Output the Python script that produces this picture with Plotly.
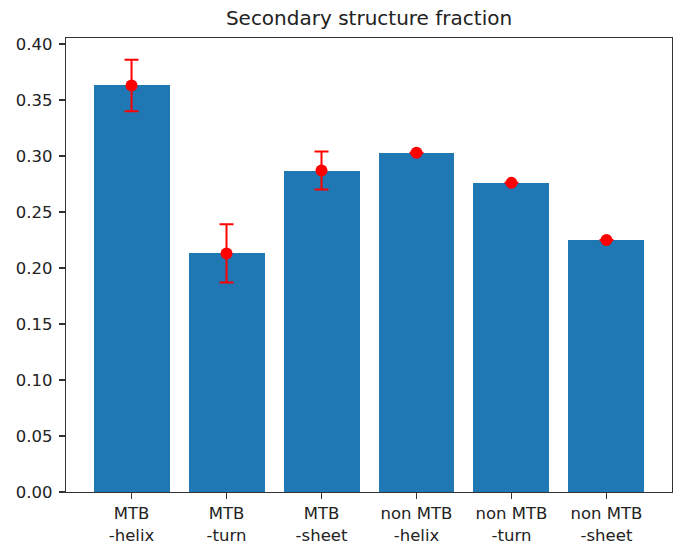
import plotly.graph_objects as go

categories = ["MTB<br>-helix", "MTB<br>-turn", "MTB<br>-sheet",
              "non MTB<br>-helix", "non MTB<br>-turn", "non MTB<br>-sheet"]
fractions = [0.363, 0.213, 0.287, 0.303, 0.276, 0.225]
errors = [0.023, 0.026, 0.017, 0.0, 0.0, 0.0]
y_ticks_top = [0.25, 0.30, 0.35, 0.40]
y_ticks_bottom = [0.00, 0.05, 0.10, 0.15, 0.20]

x = list(range(len(categories)))
BLUE = "#1f77b4"
RED = "#ff0000"
AX = "#333333"
FONT = "DejaVu Sans"
TXT = "#222222"

W, H = 677, 552
L, R, T, B = 66, 5, 38, 60

fig = go.Figure()

for xa, ya in (("x", "y"), ("x2", "y2")):
    fig.add_trace(go.Bar(x=x, y=fractions, width=0.8, marker=dict(color=BLUE, line=dict(width=0)),
                         xaxis=xa, yaxis=ya, showlegend=False, hoverinfo="skip"))
    fig.add_trace(go.Scatter(x=x, y=fractions, mode="markers",
                             marker=dict(color=RED, size=12),
                             error_y=dict(type="data", array=errors, visible=True,
                                          color=RED, thickness=2, width=7),
                             xaxis=xa, yaxis=ya, showlegend=False, cliponaxis=True))

plot_h = H - T - B
split = (492 - 259) / plot_h

yaxis_common = dict(tickformat=".2f", showline=True, mirror=True, linecolor=AX, linewidth=1.3,
                    ticks="outside", ticklen=6, tickcolor=AX, tickwidth=1.3, showgrid=False,
                    zeroline=False, tickfont=dict(size=16.5), automargin=False,
                    ticklabelstandoff=3)

fig.update_layout(
    width=W, height=H,
    margin=dict(l=L, r=R, t=T, b=B, autoexpand=False),
    plot_bgcolor="white", paper_bgcolor="white",
    font=dict(family=FONT, size=16.5, color=TXT),
    bargap=0,
    hovermode=False,
    title=dict(text="Secondary structure fraction", x=(L + (W - R)) / 2 / W, xanchor="center",
               y=1 - 18 / H, yanchor="middle", font=dict(size=20, family=FONT, color=TXT)),
    xaxis=dict(domain=[0, 1], anchor="y", range=[-0.69, 5.69], tickvals=x, ticktext=categories,
               showline=True, linecolor=AX, linewidth=1.3, ticks="outside", ticklen=6,
               tickcolor=AX, tickwidth=1.3, showgrid=False, zeroline=False,
               tickfont=dict(size=16.5), automargin=False),
    yaxis=dict(domain=[0, split], range=[0, 0.208], tickvals=y_ticks_bottom, **yaxis_common),
    xaxis2=dict(domain=[0, 1], anchor="y2", side="top", matches="x", range=[-0.69, 5.69],
                showticklabels=False, ticks="", showline=True, linecolor=AX, linewidth=1.3,
                showgrid=False, zeroline=False),
    yaxis2=dict(domain=[split, 1], anchor="x2", range=[0.208, 0.4054], tickvals=y_ticks_top,
                **yaxis_common),
)

fig.write_html("out.html", config={"displayModeBar": False, "staticPlot": True},
               post_script="document.body.style.margin='0';document.body.style.overflow='hidden';")
